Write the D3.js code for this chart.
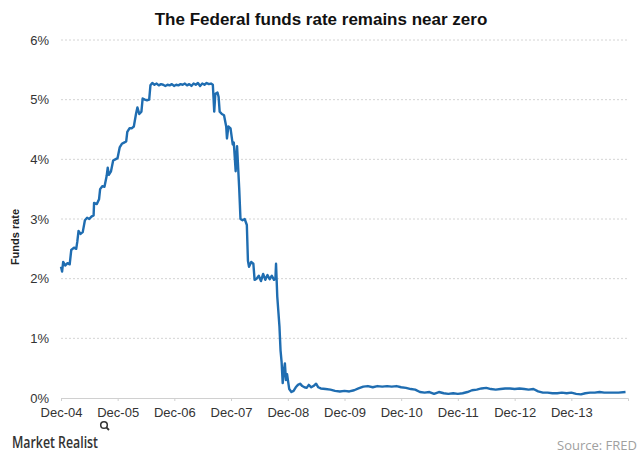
<!DOCTYPE html>
<html>
<head>
<meta charset="utf-8">
<script src="https://cdn.jsdelivr.net/npm/d3@7"></script>
<style>
  body { margin: 0; background: #fff; }
  svg { display: block; font-family: "Liberation Sans", Arial, sans-serif; }
</style>
</head>
<body>
<div id="chart"></div>
<script>
// Federal funds rate (effective)
const dates = [
  "2004-12-01","2004-12-08","2004-12-15","2004-12-29","2005-01-12","2005-01-26",
  "2005-02-05","2005-02-23","2005-03-09","2005-03-16","2005-03-24","2005-04-06","2005-04-20",
  "2005-05-04","2005-05-18","2005-06-01","2005-06-15","2005-06-29","2005-07-02","2005-07-20",
  "2005-08-03","2005-08-10","2005-08-24","2005-09-07","2005-09-21","2005-09-28","2005-10-05",
  "2005-10-19","2005-11-02","2005-11-16","2005-11-30","2005-12-14","2005-12-28","2006-01-11",
  "2006-01-25","2006-02-01","2006-02-15","2006-03-01","2006-03-15","2006-03-29","2006-04-07",
  "2006-04-19","2006-05-03","2006-05-11","2006-05-25","2006-06-08","2006-06-22","2006-06-30",
  "2006-07-12","2006-07-26","2006-08-09","2006-08-23","2006-09-06","2006-09-20","2006-10-04",
  "2006-10-18","2006-11-01","2006-11-15","2006-11-29","2006-12-13","2006-12-27","2007-01-10",
  "2007-01-24","2007-02-07","2007-02-21","2007-03-07","2007-03-21","2007-04-04","2007-04-18",
  "2007-05-02","2007-05-16","2007-05-30","2007-06-13","2007-06-27","2007-07-11","2007-07-25",
  "2007-08-06","2007-08-10","2007-08-15","2007-08-22","2007-09-05","2007-09-12","2007-09-19",
  "2007-10-03","2007-10-17","2007-10-31","2007-11-05","2007-11-14","2007-11-28","2007-12-12",
  "2007-12-19","2007-12-31","2008-01-09","2008-01-23","2008-01-31","2008-02-13","2008-02-27",
  "2008-03-12","2008-03-19","2008-03-26","2008-04-09","2008-04-23","2008-05-01","2008-05-14",
  "2008-05-28","2008-06-11","2008-06-25","2008-07-09","2008-07-23","2008-08-06","2008-08-20",
  "2008-09-03","2008-09-12","2008-09-16","2008-09-24","2008-10-01","2008-10-08","2008-10-15",
  "2008-10-22","2008-10-29","2008-11-05","2008-11-12","2008-11-19","2008-11-26","2008-12-10",
  "2008-12-24","2009-01-07","2009-01-21","2009-02-04","2009-02-18","2009-03-04","2009-03-18",
  "2009-04-01","2009-04-15","2009-05-01","2009-05-15","2009-06-01","2009-06-15","2009-07-01",
  "2009-08-01","2009-09-01","2009-10-01","2009-11-01","2009-12-01","2010-01-01","2010-02-01",
  "2010-03-01","2010-04-01","2010-05-01","2010-06-01","2010-07-01","2010-08-01","2010-09-01",
  "2010-10-01","2010-11-01","2010-12-01","2011-01-01","2011-02-01","2011-03-01","2011-04-01",
  "2011-05-01","2011-06-01","2011-07-01","2011-08-01","2011-09-01","2011-10-01","2011-11-01",
  "2011-12-01","2012-01-01","2012-02-01","2012-03-01","2012-04-01","2012-05-01","2012-06-01",
  "2012-07-01","2012-08-01","2012-09-01","2012-10-01","2012-11-01","2012-12-01","2013-01-01",
  "2013-02-01","2013-03-01","2013-04-01","2013-05-01","2013-06-01","2013-07-01","2013-08-01",
  "2013-09-01","2013-10-01","2013-11-01","2013-12-01","2014-01-01","2014-02-01","2014-03-01",
  "2014-04-01","2014-05-01","2014-06-01","2014-07-01","2014-08-01","2014-09-01","2014-10-01",
  "2014-11-15"
];
const rates = [
  2.20,2.12,2.28,2.22,2.26,2.24,
  2.48,2.52,2.50,2.62,2.80,2.75,2.78,
  2.98,3.02,3.00,3.04,3.06,3.27,3.25,
  3.33,3.50,3.55,3.54,3.72,3.86,3.74,
  3.80,3.98,4.00,4.02,4.20,4.26,4.28,
  4.30,4.46,4.52,4.52,4.55,4.76,4.87,
  4.76,4.80,5.02,5.00,4.99,5.00,5.24,
  5.28,5.25,5.27,5.24,5.26,5.25,5.23,
  5.25,5.24,5.26,5.23,5.25,5.24,5.26,
  5.25,5.27,5.24,5.26,5.23,5.27,5.25,
  5.28,5.23,5.27,5.25,5.28,5.26,5.27,
  5.25,5.05,4.80,5.10,5.12,5.05,4.80,
  4.76,4.74,4.55,4.35,4.55,4.52,4.25,
  4.28,3.80,4.22,3.50,3.00,2.98,3.00,
  2.90,2.30,2.20,2.28,2.25,1.98,2.00,
  2.05,1.96,2.08,1.98,2.06,1.99,2.05,
  1.98,2.00,2.25,1.70,1.45,1.20,0.80,
  0.60,0.25,0.45,0.58,0.30,0.40,0.15,
  0.10,0.12,0.18,0.22,0.24,0.20,0.18,
  0.17,0.22,0.18,0.20,0.24,0.18,0.16,
  0.15,0.14,0.12,0.11,0.12,0.11,0.13,
  0.16,0.19,0.20,0.18,0.20,0.19,0.20,
  0.19,0.20,0.18,0.17,0.15,0.14,0.10,
  0.09,0.10,0.07,0.10,0.08,0.07,0.08,
  0.07,0.08,0.10,0.13,0.14,0.16,0.17,
  0.15,0.14,0.15,0.16,0.16,0.15,0.16,
  0.15,0.14,0.15,0.11,0.09,0.09,0.08,
  0.08,0.09,0.08,0.09,0.07,0.06,0.08,
  0.09,0.09,0.10,0.09,0.09,0.09,0.09,
  0.10
];
const yTicks = [0, 1, 2, 3, 4, 5, 6];
const xTickLabels = ["Dec-04","Dec-05","Dec-06","Dec-07","Dec-08","Dec-09","Dec-10","Dec-11","Dec-12","Dec-13"];

const width = 640, height = 457;
const margin = { top: 40, right: 12, bottom: 59, left: 61 };
const parse = d3.timeParse("%Y-%m-%d");
const series = dates.map((d, i) => ({ date: parse(d), value: rates[i] }));
const tickDates = xTickLabels.map((l, i) => new Date(2004 + i, 11, 1));

const svg = d3.select("#chart").append("svg")
  .attr("width", width)
  .attr("height", height);

const x = d3.scaleTime()
  .domain([new Date(2004, 11, 1), new Date(2014, 11, 1)])
  .range([margin.left, width - margin.right]);
const y = d3.scaleLinear()
  .domain([0, 6])
  .range([height - margin.bottom, margin.top]);

// title
svg.append("text")
  .attr("x", 321).attr("y", 25)
  .attr("text-anchor", "middle")
  .attr("font-size", 17).attr("font-weight", "bold")
  .attr("fill", "#111")
  .text("The Federal funds rate remains near zero");

// gridlines
svg.append("g")
  .selectAll("line")
  .data(yTicks.filter(t => t > 0))
  .enter().append("line")
  .attr("x1", margin.left).attr("x2", width - margin.right)
  .attr("y1", d => y(d)).attr("y2", d => y(d))
  .attr("stroke", "#d4d4d4")
  .attr("stroke-dasharray", "2,2");

// y axis
const yAxis = svg.append("g")
  .attr("transform", `translate(${margin.left},0)`)
  .call(d3.axisLeft(y).tickValues(yTicks).tickFormat(d => d + "%").tickSize(0).tickPadding(12));
yAxis.select(".domain").remove();
yAxis.selectAll("text").attr("font-size", 13).attr("fill", "#333")
  .attr("font-family", "Liberation Sans, Arial, sans-serif");

// x axis
const xAxis = svg.append("g")
  .attr("transform", `translate(0,${y(0)})`)
  .call(d3.axisBottom(x).tickValues(tickDates).tickFormat((d, i) => xTickLabels[i]).tickSize(3).tickPadding(7));
xAxis.select(".domain").attr("stroke", "#d0d0d0");
xAxis.selectAll(".tick line").attr("stroke", "#d0d0d0");
xAxis.selectAll("text").attr("font-size", 13).attr("fill", "#333")
  .attr("font-family", "Liberation Sans, Arial, sans-serif");

// y label
svg.append("text")
  .attr("transform", "translate(19,237) rotate(-90)")
  .attr("text-anchor", "middle")
  .attr("font-size", 11).attr("font-weight", "bold")
  .attr("fill", "#222")
  .text("Funds rate");

// line
const line = d3.line()
  .x(d => x(d.date))
  .y(d => y(d.value));
svg.append("path")
  .datum(series)
  .attr("d", line)
  .attr("fill", "none")
  .attr("stroke", "#1f6db1")
  .attr("stroke-width", 2.4)
  .attr("stroke-linejoin", "round");

// footer
svg.append("text")
  .attr("x", 12).attr("y", 448)
  .attr("font-size", 17).attr("fill", "#333")
  .attr("font-family", "Open Sans, sans-serif")
  .attr("font-weight", 600)
  .attr("textLength", 86)
  .attr("lengthAdjust", "spacingAndGlyphs")
  .text("Market Realist");
const mag = svg.append("g").attr("transform", "translate(104,425)").attr("stroke", "#333").attr("fill", "none");
mag.append("circle").attr("r", 3.3).attr("stroke-width", 1.5);
mag.append("line").attr("x1", 2.4).attr("y1", 2.4).attr("x2", 5).attr("y2", 5).attr("stroke-width", 1.8);

svg.append("text")
  .attr("x", 637).attr("y", 450)
  .attr("text-anchor", "end")
  .attr("font-size", 13).attr("fill", "#a0a0a0")
  .attr("font-family", "Open Sans, sans-serif")
  .text("Source: FRED");
</script>
</body>
</html>
